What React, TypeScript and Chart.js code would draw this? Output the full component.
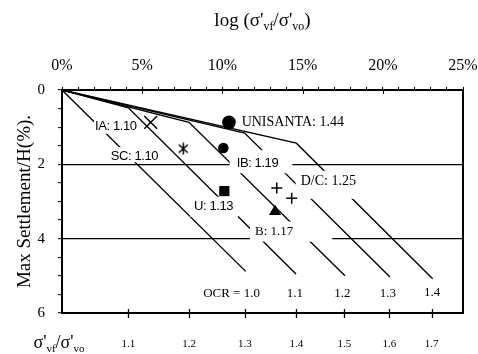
import React, { useEffect, useRef } from "react";
import { Chart, registerables } from "chart.js";

Chart.register(...registerables);

// ---------------- data ----------------
// OCR reference lines: origin -> bend (recompression) -> end (virgin compression)
const OCR_VALUES = [1.0, 1.1, 1.2, 1.3, 1.4];
const OCR_BEND_LOG = [0, 4.14, 7.92, 11.39, 14.61]; // log(σ'vf/σ'vo) in %
const OCR_BEND_SETTLEMENT = [0, 0.48, 0.87, 1.16, 1.43]; // %
const OCR_END_LOG = [11.45, 14.59, 17.64, 20.45, 23.11];
const OCR_END_SETTLEMENT = [4.88, 4.95, 5.0, 5.03, 5.08];

// case-study sites
const SITE_NAMES = ["UNISANTA", "IB", "IA", "SC", "U", "D/C", "B"];
const SITE_OCR = [1.44, 1.19, 1.1, 1.1, 1.13, 1.25, 1.17];
const POINT_SITE = ["UNISANTA", "IB", "IA", "SC", "U", "D/C", "D/C", "B"];
const POINT_LOG = [10.41, 10.06, 5.53, 7.56, 10.12, 13.39, 14.32, 13.28];
const POINT_SETTLEMENT = [0.87, 1.56, 0.87, 1.58, 2.72, 2.64, 2.91, 3.27];

// axes
const LOG_PCT_MIN = 0;
const LOG_PCT_MAX = 25;
const SETTLEMENT_MIN = 0;
const SETTLEMENT_MAX = 6;
const RATIO_TICKS = [1.1, 1.2, 1.3, 1.4, 1.5, 1.6, 1.7];

// ---------------- styles / layout ----------------
const SERIF = "'Liberation Serif', 'Times New Roman', serif";
const SANS = "'Liberation Sans', Arial, sans-serif";

const MARKER_STYLE: Record<string, { style: string; radius: number; fill: boolean }> = {
  UNISANTA: { style: "circle", radius: 6.8, fill: true },
  IB: { style: "circle", radius: 5.3, fill: true },
  IA: { style: "crossRot", radius: 9, fill: false },
  SC: { style: "asterisk", radius: 6, fill: false },
  U: { style: "rect", radius: 7.2, fill: true },
  "D/C": { style: "cross", radius: 5.5, fill: false },
  B: { style: "triangle", radius: 7, fill: true },
};

// note anchor (data units, text left / middle), font, white box padding [l, r, t, b]
const NOTE_LAYOUT: Record<string, { x: number; y: number; font: string; spacing: string; pad: number[] }> = {
  UNISANTA: { x: 11.2, y: 0.86, font: `14px ${SERIF}`, spacing: "0px", pad: [2, 2, 5, 5] },
  IA: { x: 2.06, y: 0.99, font: `13px ${SANS}`, spacing: "-0.4px", pad: [1, 2, 7, 7] },
  SC: { x: 3.04, y: 1.78, font: `13px ${SANS}`, spacing: "-0.4px", pad: [1, 1, 9, 6] },
  IB: { x: 10.89, y: 1.97, font: `13px ${SANS}`, spacing: "-0.4px", pad: [7, 14, 13, 10] },
  U: { x: 8.23, y: 3.14, font: `13px ${SANS}`, spacing: "-0.4px", pad: [4, 5, 10, 10] },
  "D/C": { x: 14.88, y: 2.47, font: `14px ${SERIF}`, spacing: "0px", pad: [5, 3, 11, 17] },
  B: { x: 12.03, y: 3.81, font: `13px ${SERIF}`, spacing: "0px", pad: [5, 39, 10, 10] },
};

const OCR_LABEL_POS = [
  { x: 10.57, y: 5.49 },
  { x: 14.52, y: 5.49 },
  { x: 17.48, y: 5.49 },
  { x: 20.32, y: 5.49 },
  { x: 23.07, y: 5.44 },
];

function makeAsterisk(): HTMLCanvasElement {
  const c = document.createElement("canvas");
  c.width = 13;
  c.height = 13;
  const g = c.getContext("2d")!;
  g.strokeStyle = "#000";
  g.lineWidth = 1.5;
  g.beginPath();
  g.moveTo(2, 2.5);
  g.lineTo(11, 10.5);
  g.moveTo(11, 2.5);
  g.lineTo(2, 10.5);
  g.moveTo(6.5, 0.5);
  g.lineTo(6.5, 12.5);
  g.stroke();
  return c;
}

type Part = { t: string; sub?: boolean };

function drawRich(ctx: CanvasRenderingContext2D, parts: Part[], cx: number, base: number, mainPx: number, subPx: number, drop: number) {
  const mainFont = `${mainPx}px ${SERIF}`;
  const subFont = `${subPx}px ${SERIF}`;
  let total = 0;
  const widths = parts.map((p) => {
    ctx.font = p.sub ? subFont : mainFont;
    const w = ctx.measureText(p.t).width;
    total += w;
    return w;
  });
  let x = cx - total / 2;
  ctx.textAlign = "left";
  ctx.textBaseline = "alphabetic";
  parts.forEach((p, i) => {
    ctx.font = p.sub ? subFont : mainFont;
    ctx.fillText(p.t, x, base + (p.sub ? drop : 0));
    x += widths[i];
  });
}

function drawNotes(chart: any) {
  const ctx: CanvasRenderingContext2D = chart.ctx;
  const xs = chart.scales.x;
  const ys = chart.scales.y;
  ctx.save();
  SITE_NAMES.forEach((name, i) => {
    const lay = NOTE_LAYOUT[name];
    const text = `${name}: ${SITE_OCR[i].toFixed(2)}`;
    ctx.font = lay.font;
    (ctx as any).letterSpacing = lay.spacing;
    const w = ctx.measureText(text).width;
    const px = xs.getPixelForValue(lay.x);
    const py = ys.getPixelForValue(lay.y);
    const [l, r, t, b] = lay.pad;
    ctx.fillStyle = "#fff";
    ctx.fillRect(px - l, py - t, w + l + r, t + b);
    ctx.fillStyle = "#000";
    ctx.textAlign = "left";
    ctx.textBaseline = "middle";
    ctx.fillText(text, px, py);
    (ctx as any).letterSpacing = "0px";
  });
  ctx.restore();
}

const decorPlugin = {
  id: "decor",
  beforeDatasetsDraw(chart: any) {
    chart.$notesDone = false;
  },
  beforeDatasetDraw(chart: any, args: any) {
    const ds = chart.data.datasets[args.index];
    if (ds.kind === "site" && !chart.$notesDone) {
      drawNotes(chart);
      chart.$notesDone = true;
    }
  },
  afterDraw(chart: any) {
    const ctx: CanvasRenderingContext2D = chart.ctx;
    const area = chart.chartArea;
    const xs = chart.scales.x;
    const ys = chart.scales.y;
    const xb = chart.scales.xb;
    ctx.save();
    ctx.strokeStyle = "#000";
    ctx.fillStyle = "#000";

    // right frame
    ctx.lineWidth = 2;
    ctx.beginPath();
    ctx.moveTo(area.right, area.top - 1);
    ctx.lineTo(area.right, area.bottom + 1);
    ctx.stroke();

    // top axis major ticks extend inward
    ctx.lineWidth = 1;
    for (let v = LOG_PCT_MIN; v <= LOG_PCT_MAX; v += 5) {
      const px = Math.round(xs.getPixelForValue(v)) + 0.5;
      ctx.beginPath();
      ctx.moveTo(px, area.top);
      ctx.lineTo(px, area.top + 4);
      ctx.stroke();
    }

    // bottom ratio ticks crossing the axis
    ctx.lineWidth = 1.3;
    RATIO_TICKS.forEach((v) => {
      const px = Math.round(xb.getPixelForValue(v)) + 0.5;
      ctx.beginPath();
      ctx.moveTo(px, area.bottom - 4);
      ctx.lineTo(px, area.bottom + 5);
      ctx.stroke();
    });

    // OCR labels
    ctx.font = `13px ${SERIF}`;
    ctx.textAlign = "center";
    ctx.textBaseline = "middle";
    OCR_VALUES.forEach((v, i) => {
      const text = i === 0 ? `OCR = ${v.toFixed(1)}` : v.toFixed(1);
      const p = OCR_LABEL_POS[i];
      ctx.fillText(text, xs.getPixelForValue(p.x), ys.getPixelForValue(p.y));
    });

    // top title
    drawRich(
      ctx,
      [{ t: "log (σ'" }, { t: "vf", sub: true }, { t: "/σ'" }, { t: "vo", sub: true }, { t: ")" }],
      (area.left + area.right) / 2,
      26,
      19,
      12,
      3.5
    );

    // bottom-left axis name
    drawRich(
      ctx,
      [{ t: "σ'" }, { t: "vf", sub: true }, { t: "/σ'" }, { t: "vo", sub: true }],
      59,
      348,
      18,
      11,
      3.5
    );

    // y-axis title
    ctx.save();
    ctx.translate(25, (area.top + area.bottom) / 2);
    ctx.rotate(-Math.PI / 2);
    ctx.font = `19px ${SERIF}`;
    ctx.textAlign = "center";
    ctx.textBaseline = "middle";
    ctx.fillText("Max Settlement/H(%).", 0, 0);
    ctx.restore();

    ctx.restore();
  },
};

function noPad(s: any) {
  s.paddingLeft = 0;
  s.paddingRight = 0;
  s.paddingTop = 0;
  s.paddingBottom = 0;
}

export default function App() {
  const ref = useRef<HTMLCanvasElement>(null);

  useEffect(() => {
    const asterisk = makeAsterisk();

    const lineSets = OCR_VALUES.map((v, i) => ({
      kind: "ocr",
      label: `OCR ${v.toFixed(1)}`,
      data: [
        { x: 0, y: 0 },
        { x: OCR_BEND_LOG[i], y: OCR_BEND_SETTLEMENT[i] },
        { x: OCR_END_LOG[i], y: OCR_END_SETTLEMENT[i] },
      ],
      showLine: true,
      borderColor: "#000",
      borderWidth: 1.4,
      pointRadius: 0,
      pointHoverRadius: 0,
      tension: 0,
      order: 2,
      xAxisID: "x",
      yAxisID: "y",
    }));

    const siteSets = SITE_NAMES.map((name) => {
      const st = MARKER_STYLE[name];
      const pts = POINT_SITE.map((s, j) => (s === name ? { x: POINT_LOG[j], y: POINT_SETTLEMENT[j] } : null)).filter(
        (p) => p !== null
      );
      return {
        kind: "site",
        label: name,
        data: pts,
        showLine: false,
        pointStyle: st.style === "asterisk" ? asterisk : st.style,
        pointRadius: st.radius,
        pointHoverRadius: st.radius,
        backgroundColor: "#000",
        borderColor: "#000",
        borderWidth: st.fill ? 0 : 1.5,
        order: 1,
        xAxisID: "x",
        yAxisID: "y",
      };
    });

    const chart = new Chart(ref.current!, {
      type: "scatter",
      data: { datasets: [...lineSets, ...siteSets] as any },
      options: {
        animation: false,
        responsive: false,
        devicePixelRatio: 1,
        events: [],
        layout: { padding: { left: 0, right: 15, top: 0, bottom: 0 } },
        plugins: { legend: { display: false }, tooltip: { enabled: false }, title: { display: false } },
        scales: {
          x: {
            type: "linear",
            position: "top",
            min: LOG_PCT_MIN,
            max: LOG_PCT_MAX,
            afterFit: (s: any) => {
              s.height = 90;
              noPad(s);
            },
            ticks: {
              stepSize: 1,
              autoSkip: false,
              maxRotation: 0,
              padding: 12,
              color: "#000",
              font: { family: SERIF, size: 16 },
              callback: (v: any) => (Number(v) % 5 === 0 ? `${v}%` : ""),
            },
            grid: {
              display: true,
              drawOnChartArea: false,
              drawTicks: true,
              tickLength: 3,
              tickColor: "#000",
              tickWidth: 1,
            },
            border: { display: true, color: "#000", width: 2 },
          },
          xb: {
            type: "logarithmic",
            position: "bottom",
            min: 1,
            max: Math.pow(10, LOG_PCT_MAX / 100),
            afterFit: (s: any) => {
              s.height = 41;
              noPad(s);
            },
            afterBuildTicks: (s: any) => {
              s.ticks = RATIO_TICKS.map((v) => ({ value: v }));
            },
            ticks: {
              autoSkip: false,
              maxRotation: 0,
              padding: 25,
              color: "#000",
              font: { family: SERIF, size: 11 },
              callback: (v: any) => Number(v).toFixed(1),
            },
            grid: { display: false, drawTicks: false },
            border: { display: true, color: "#000", width: 2 },
          },
          y: {
            type: "linear",
            position: "left",
            reverse: true,
            min: SETTLEMENT_MIN,
            max: SETTLEMENT_MAX,
            afterFit: (s: any) => {
              s.width = 62;
              noPad(s);
            },
            ticks: {
              stepSize: 0.5,
              autoSkip: false,
              padding: 13,
              color: "#000",
              font: { family: SERIF, size: 15 },
              callback: (v: any) => (Number(v) % 2 === 0 ? String(v) : ""),
            },
            grid: {
              display: true,
              drawOnChartArea: true,
              color: (c: any) => (c.tick && (c.tick.value === 2 || c.tick.value === 4) ? "#000" : "rgba(0,0,0,0)"),
              lineWidth: 1.3,
              drawTicks: true,
              tickLength: 4,
              tickColor: "#000",
              tickWidth: 1,
            },
            border: { display: true, color: "#000", width: 2 },
          },
        },
      } as any,
      plugins: [decorPlugin as any],
    });

    return () => chart.destroy();
  }, []);

  return (
    <div style={{ position: "absolute", left: 0, top: 0, width: 478, height: 354, background: "#fff" }}>
      <canvas ref={ref} width={478} height={354} style={{ display: "block", width: 478, height: 354 }} />
    </div>
  );
}
